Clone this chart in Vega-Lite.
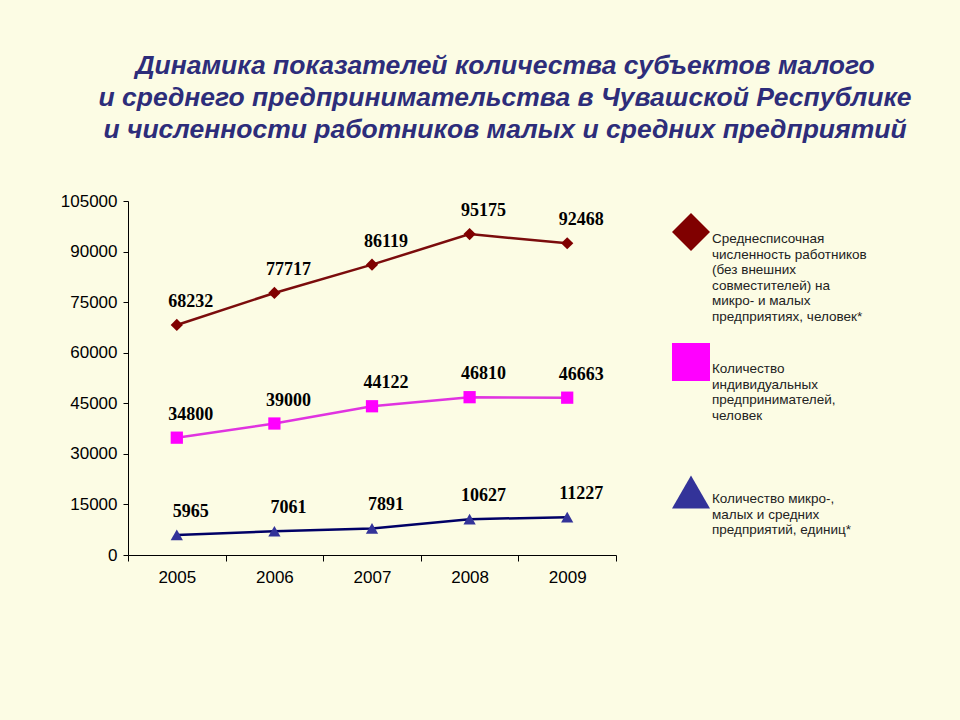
{
  "$schema": "https://vega.github.io/schema/vega-lite/v6.json",
  "description": "Dynamics of SME indicators in the Chuvash Republic, 2005-2009",
  "width": 488,
  "height": 354,
  "autosize": {"type": "none"},
  "padding": {"left": 128, "top": 201, "right": 344, "bottom": 165},
  "background": "#fcfce4",
  "view": {"stroke": null},
  "title": {
    "text": [
      "Динамика показателей количества субъектов малого",
      "и среднего предпринимательства в Чувашской Республике",
      "и численности работников малых и средних предприятий"
    ],
    "frame": "group",
    "anchor": "middle",
    "dx": 133,
    "offset": 49,
    "font": "Liberation Sans",
    "fontSize": 26.5,
    "fontStyle": "italic",
    "fontWeight": "bold",
    "lineHeight": 32,
    "color": "#2d2d7a"
  },
  "config": {
    "legend": {
      "title": null,
      "orient": "none",
      "legendX": 544,
      "legendY": 12,
      "padding": 0,
      "symbolSize": 1444,
      "symbolStrokeWidth": 0,
      "labelOffset": 2,
      "labelFont": "Liberation Sans",
      "labelFontSize": 13.5,
      "labelColor": "#222222",
      "labelLimit": 300,
      "labelBaseline": "top",
      "rowPadding": 20
    }
  },
  "data": {
    "values": [
      {"year": "2005", "series": "A", "value": 68232},
      {"year": "2006", "series": "A", "value": 77717},
      {"year": "2007", "series": "A", "value": 86119},
      {"year": "2008", "series": "A", "value": 95175},
      {"year": "2009", "series": "A", "value": 92468},
      {"year": "2005", "series": "B", "value": 34800},
      {"year": "2006", "series": "B", "value": 39000},
      {"year": "2007", "series": "B", "value": 44122},
      {"year": "2008", "series": "B", "value": 46810},
      {"year": "2009", "series": "B", "value": 46663},
      {"year": "2005", "series": "C", "value": 5965},
      {"year": "2006", "series": "C", "value": 7061},
      {"year": "2007", "series": "C", "value": 7891},
      {"year": "2008", "series": "C", "value": 10627},
      {"year": "2009", "series": "C", "value": 11227}
    ]
  },
  "encoding": {
    "x": {
      "field": "year",
      "type": "ordinal",
      "scale": {"type": "band", "paddingInner": 0, "paddingOuter": 0},
      "axis": {
        "title": null,
        "tickBand": "extent",
        "labelAngle": 0,
        "tickSize": 6,
        "tickColor": "black",
        "domainColor": "black",
        "labelFont": "Liberation Sans",
        "labelFontSize": 17,
        "labelColor": "black",
        "labelPadding": 8
      }
    },
    "y": {
      "field": "value",
      "type": "quantitative",
      "scale": {"domain": [0, 105000], "nice": false},
      "axis": {
        "title": null,
        "values": [0, 15000, 30000, 45000, 60000, 75000, 90000, 105000],
        "format": "d",
        "grid": false,
        "tickSize": 5,
        "tickColor": "black",
        "domainColor": "black",
        "labelFont": "Liberation Sans",
        "labelFontSize": 17,
        "labelColor": "black",
        "labelPadding": 6
      }
    }
  },
  "layer": [
    {
      "mark": {"type": "line", "strokeWidth": 2.5},
      "encoding": {
        "detail": {"field": "series"},
        "stroke": {
          "field": "series",
          "type": "nominal",
          "scale": {"domain": ["A", "B", "C"], "range": ["#7b0c0c", "#e033e0", "#000066"]},
          "legend": {
            "labelExpr": "datum.value === 'A' ? ['Среднесписочная', 'численность работников', '(без внешних', 'совместителей) на', 'микро- и малых', 'предприятиях, человек*'] : datum.value === 'B' ? ['Количество', 'индивидуальных', 'предпринимателей,', 'человек', '\u00a0', '\u00a0'] : ['Количество микро-,', 'малых  и средних', 'предприятий, единиц*']",
            "encoding": {
              "symbols": {
                "strokeWidth": {"value": 0},
                "shape": {"value": {"expr": "datum.value === 'A' ? 'M-1,-0.05H1V0.05H-1Z M0,-0.26L0.26,0L0,0.26L-0.26,0Z' : datum.value === 'B' ? 'M-1,-0.05H1V0.05H-1Z M-0.2,-0.2H0.2V0.2H-0.2Z' : 'M-1,-0.05H1V0.05H-1Z M0,-0.24L0.25,0.18H-0.25Z'"}}
              }
            }
          }
        }
      }
    },
    {
      "mark": {"type": "point", "filled": true, "opacity": 1, "strokeWidth": 0, "size": 150},
      "encoding": {
        "shape": {
          "field": "series",
          "type": "nominal",
          "scale": {"domain": ["A", "B", "C"], "range": ["diamond", "square", "triangle-up"]},
          "legend": {
            "labelExpr": "datum.value === 'A' ? ['Среднесписочная', 'численность работников', '(без внешних', 'совместителей) на', 'микро- и малых', 'предприятиях, человек*'] : datum.value === 'B' ? ['Количество', 'индивидуальных', 'предпринимателей,', 'человек', '\u00a0', '\u00a0'] : ['Количество микро-,', 'малых  и средних', 'предприятий, единиц*']",
            "encoding": {
              "symbols": {
                "strokeWidth": {"value": 0},
                "shape": {"value": {"expr": "datum.value === 'A' ? 'M-1,-0.05H1V0.05H-1Z M0,-0.26L0.26,0L0,0.26L-0.26,0Z' : datum.value === 'B' ? 'M-1,-0.05H1V0.05H-1Z M-0.2,-0.2H0.2V0.2H-0.2Z' : 'M-1,-0.05H1V0.05H-1Z M0,-0.24L0.25,0.18H-0.25Z'"}}
              }
            }
          }
        },
        "fill": {
          "field": "series",
          "type": "nominal",
          "scale": {"domain": ["A", "B", "C"], "range": ["#800000", "#ff00ff", "#333399"]},
          "legend": {
            "labelExpr": "datum.value === 'A' ? ['Среднесписочная', 'численность работников', '(без внешних', 'совместителей) на', 'микро- и малых', 'предприятиях, человек*'] : datum.value === 'B' ? ['Количество', 'индивидуальных', 'предпринимателей,', 'человек', '\u00a0', '\u00a0'] : ['Количество микро-,', 'малых  и средних', 'предприятий, единиц*']",
            "encoding": {
              "symbols": {
                "strokeWidth": {"value": 0},
                "shape": {"value": {"expr": "datum.value === 'A' ? 'M-1,-0.05H1V0.05H-1Z M0,-0.26L0.26,0L0,0.26L-0.26,0Z' : datum.value === 'B' ? 'M-1,-0.05H1V0.05H-1Z M-0.2,-0.2H0.2V0.2H-0.2Z' : 'M-1,-0.05H1V0.05H-1Z M0,-0.24L0.25,0.18H-0.25Z'"}}
              }
            }
          }
        }
      }
    },
    {
      "mark": {
        "type": "text",
        "font": "Liberation Serif",
        "fontSize": 18,
        "fontWeight": "bold",
        "color": "black",
        "dx": 14,
        "dy": -23,
        "baseline": "middle"
      },
      "encoding": {
        "text": {"field": "value", "type": "quantitative", "format": "d"}
      }
    }
  ]
}
